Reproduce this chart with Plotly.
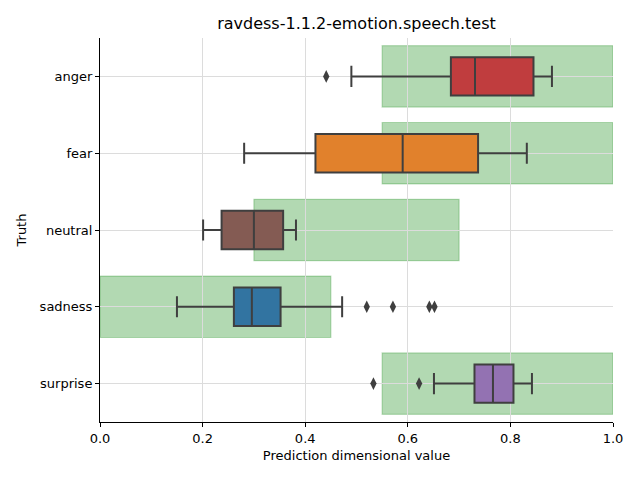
import plotly.graph_objects as go

categories = ["anger", "fear", "neutral", "sadness", "surprise"]
lower_whisker = [0.490, 0.281, 0.201, 0.150, 0.651]
q1 = [0.684, 0.420, 0.237, 0.261, 0.730]
median = [0.731, 0.590, 0.300, 0.296, 0.766]
q3 = [0.845, 0.737, 0.357, 0.352, 0.806]
upper_whisker = [0.881, 0.832, 0.382, 0.472, 0.842]
outlier_cat = ["anger", "sadness", "sadness", "sadness", "sadness", "surprise", "surprise"]
outlier_val = [0.441, 0.520, 0.571, 0.642, 0.652, 0.533, 0.622]
range_low = [0.55, 0.55, 0.30, 0.0, 0.55]
range_high = [1.0, 1.0, 0.70, 0.45, 1.0]
box_colors = ["#c03d3e", "#e1812c", "#845b53", "#3274a1", "#9372b2"]

EDGE = "#3f3f3f"
FONT = "DejaVu Sans"

fig = go.Figure()

for i, cat in enumerate(categories):
    fig.add_trace(go.Box(
        y=[cat], q1=[q1[i]], median=[median[i]], q3=[q3[i]],
        lowerfence=[lower_whisker[i]], upperfence=[upper_whisker[i]],
        orientation="h", fillcolor=box_colors[i],
        line=dict(color=EDGE, width=2), width=0.5, whiskerwidth=0.55,
        boxpoints=False, showlegend=False, hoverinfo="skip",
    ))

fig.add_trace(go.Scatter(
    x=outlier_val, y=outlier_cat, mode="markers",
    marker=dict(symbol="diamond-tall", size=9, color=EDGE),
    showlegend=False, hoverinfo="skip",
))

for i, cat in enumerate(categories):
    fig.add_shape(type="rect", xref="x", yref="y",
                  x0=range_low[i], x1=range_high[i], y0=i - 0.4, y1=i + 0.4,
                  fillcolor="rgba(0,128,0,0.3)", line=dict(color="rgba(0,128,0,0.25)", width=1.2),
                  layer="below")

fig.update_layout(
    width=632, height=472,
    margin=dict(l=92, r=27, t=30, b=58),
    plot_bgcolor="white", paper_bgcolor="white",
    boxmode="overlay",
    font=dict(family=FONT, size=13, color="black"),
    title=dict(text="ravdess-1.1.2-emotion.speech.test", x=0.5, xanchor="center",
               xref="paper", y=1 - 15 / 472, yanchor="middle",
               font=dict(family=FONT, size=16, color="black")),
)
fig.update_xaxes(
    range=[0, 1], tickvals=[0, 0.2, 0.4, 0.6, 0.8, 1.0],
    ticktext=["0.0", "0.2", "0.4", "0.6", "0.8", "1.0"],
    showgrid=True, gridcolor="#dcdcdc", gridwidth=1, zeroline=False,
    showline=True, linecolor="black", linewidth=1,
    ticks="outside", ticklen=4, tickcolor="black",
    title=dict(text="Prediction dimensional value", font=dict(size=13), standoff=6),
    layer="below traces",
)
fig.update_yaxes(
    categoryorder="array", categoryarray=categories, autorange="reversed",
    range=[4.5, -0.5],
    showgrid=True, gridcolor="#dcdcdc", gridwidth=1, zeroline=False,
    showline=True, linecolor="black", linewidth=1,
    ticks="outside", ticklen=4, tickcolor="black",
    title=dict(text="Truth", font=dict(size=13), standoff=10),
)

fig.write_html("out.html")
